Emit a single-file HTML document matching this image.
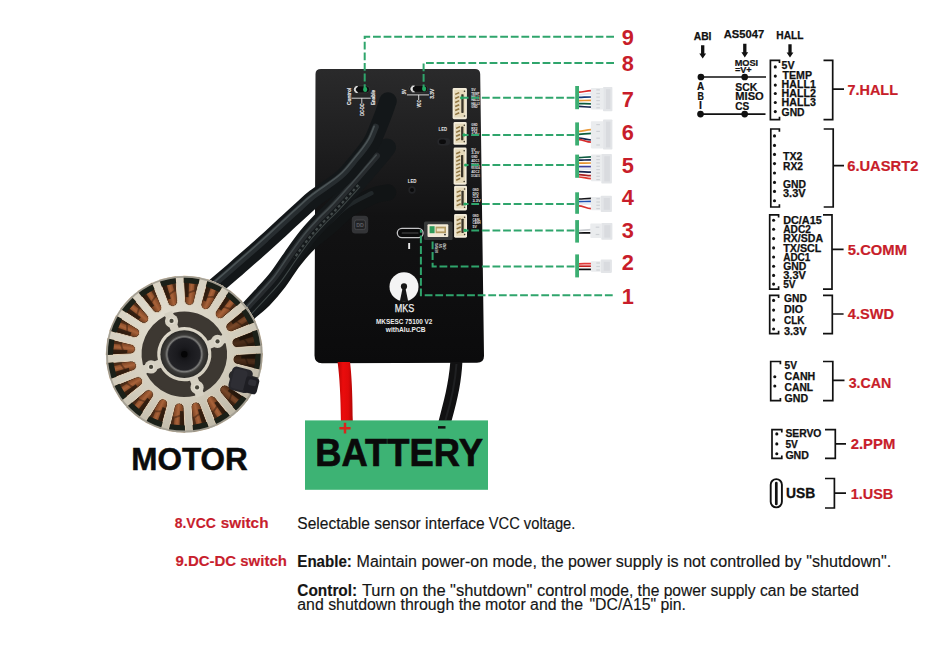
<!DOCTYPE html><html><head><meta charset="utf-8"><style>html,body{margin:0;padding:0;background:#fff}svg{display:block}text{font-family:"Liberation Sans",sans-serif}</style></head><body>
<svg width="936" height="646" viewBox="0 0 936 646">
<rect width="936" height="646" fill="#fff"/>
<!--BOARD--><defs><linearGradient id="bd" x1="0" y1="0" x2="0" y2="1"><stop offset="0" stop-color="#2a2a2b"/><stop offset="0.22" stop-color="#202021"/><stop offset="0.5" stop-color="#121213"/><stop offset="1" stop-color="#0b0b0c"/></linearGradient></defs><path d="M321,69 L475,69 Q480,69 480.2,74 L484,356 Q484,362.8 477,362.8 L322,363.3 Q314.5,363.3 314.5,355.5 L315.5,74 Q315.5,69 321,69 Z" fill="url(#bd)"/>
<!--BDET--><rect x="352.4" y="85.9" width="17.3" height="7" rx="3.5" fill="#0c0c0d" stroke="#3c3c3c" stroke-width="0.8"/><path d="M357.6,86.6 A3,3 0 0 0 357.6,92.4 L356,92.4 A3.2,3.2 0 0 1 356,86.6 Z" fill="#e4e4e4" stroke="#e4e4e4" stroke-width="0.9"/><path d="M351.5,98.2 H370.8 M361.8,98.2 V103.6" stroke="#e8e8e8" stroke-width="0.9" fill="none"/><g font-size="4.9" font-weight="bold" fill="#e8e8e8" stroke="#e8e8e8" stroke-width="0.15"><text transform="translate(350.9,104.9) rotate(-90)" textLength="17.2" lengthAdjust="spacingAndGlyphs">Control</text><text transform="translate(375.2,104.9) rotate(-90)" textLength="14.8" lengthAdjust="spacingAndGlyphs">Enable</text><text transform="translate(363.7,115.8) rotate(-90)" textLength="12.2" lengthAdjust="spacingAndGlyphs">DC-DC</text><text transform="translate(406.2,94.2) rotate(-90)" textLength="4.8" lengthAdjust="spacingAndGlyphs">5V</text><text transform="translate(434.2,98.8) rotate(-90)" textLength="10" lengthAdjust="spacingAndGlyphs">3.3V</text><text transform="translate(420.7,107.6) rotate(-90)" textLength="7.6" lengthAdjust="spacingAndGlyphs">VCC</text></g><rect x="408.8" y="85.3" width="19" height="7" rx="3.5" fill="#0c0c0d" stroke="#3c3c3c" stroke-width="0.8"/><path d="M414.4,86 A3,3 0 0 0 414.4,91.8 L412.6,91.8 A3.2,3.2 0 0 1 412.6,86 Z" fill="#e4e4e4" stroke="#e4e4e4" stroke-width="0.9"/><path d="M406.9,94.9 H429 M418.7,94.9 V100" stroke="#e8e8e8" stroke-width="0.9" fill="none"/><text x="438.6" y="131.1" font-size="4.6" font-weight="bold" fill="#e8e8e8" textLength="8.4" lengthAdjust="spacingAndGlyphs">LED</text><rect x="437.3" y="138" width="13" height="7.6" rx="3.8" fill="#26272a"/><rect x="439" y="139.4" width="7" height="4.6" rx="2.3" fill="#0b0b0c"/><text x="407.7" y="182.5" font-size="4.6" font-weight="bold" fill="#e8e8e8" textLength="8.8" lengthAdjust="spacingAndGlyphs">LED</text><circle cx="412" cy="190" r="3.7" fill="#222326"/><circle cx="412" cy="190" r="2" fill="#0a0a0b"/><rect x="351.8" y="215.8" width="16.4" height="17.8" rx="3.5" fill="#333437"/><rect x="354.6" y="220" width="10.8" height="9.6" rx="2" fill="#222326" stroke="#505155" stroke-width="0.7"/><text x="356.2" y="227.3" font-size="5.4" font-weight="bold" fill="#5c5d62" textLength="7.6" lengthAdjust="spacingAndGlyphs">DD</text><rect x="452.6" y="88" width="14.3" height="31.2" rx="1.4" fill="#f3ecda"/><rect x="454.20000000000005" y="89.8" width="11.100000000000001" height="27.599999999999998" rx="0.8" fill="#e6dabb"/><path d="M455.2,94.42 L459.2,92.62" stroke="#8f7440" stroke-width="1.5"/><path d="M455.2,98.45 L459.2,96.65" stroke="#8f7440" stroke-width="1.5"/><path d="M455.2,102.48 L459.2,100.68" stroke="#8f7440" stroke-width="1.5"/><path d="M455.2,106.52 L459.2,104.72" stroke="#8f7440" stroke-width="1.5"/><path d="M455.2,110.55 L459.2,108.75" stroke="#8f7440" stroke-width="1.5"/><path d="M455.2,114.58 L459.2,112.78" stroke="#8f7440" stroke-width="1.5"/><rect x="461.3" y="94.24" width="2.3" height="18.72" rx="0.6" fill="#3a3428"/><circle cx="464.5" cy="91.2" r="0.8" fill="#3a3428"/><circle cx="464.5" cy="116.0" r="0.8" fill="#3a3428"/><rect x="453.5" y="122" width="13.2" height="22.8" rx="1.4" fill="#f3ecda"/><rect x="455.1" y="123.8" width="10.0" height="19.2" rx="0.8" fill="#e6dabb"/><path d="M456.1,128.38 L460.1,126.57" stroke="#8f7440" stroke-width="1.5"/><path d="M456.1,132.33 L460.1,130.53" stroke="#8f7440" stroke-width="1.5"/><path d="M456.1,136.28 L460.1,134.47" stroke="#8f7440" stroke-width="1.5"/><path d="M456.1,140.22 L460.1,138.42" stroke="#8f7440" stroke-width="1.5"/><rect x="461.1" y="126.56" width="2.3" height="13.68" rx="0.6" fill="#3a3428"/><circle cx="464.3" cy="125.2" r="0.8" fill="#3a3428"/><circle cx="464.3" cy="141.6" r="0.8" fill="#3a3428"/><rect x="453.6" y="147.5" width="13" height="37.2" rx="1.4" fill="#f3ecda"/><rect x="455.20000000000005" y="149.3" width="9.8" height="33.6" rx="0.8" fill="#e6dabb"/><path d="M456.2,153.79 L460.2,151.99" stroke="#8f7440" stroke-width="1.5"/><path d="M456.2,157.56 L460.2,155.76" stroke="#8f7440" stroke-width="1.5"/><path d="M456.2,161.34 L460.2,159.54" stroke="#8f7440" stroke-width="1.5"/><path d="M456.2,165.11 L460.2,163.31" stroke="#8f7440" stroke-width="1.5"/><path d="M456.2,168.89 L460.2,167.09" stroke="#8f7440" stroke-width="1.5"/><path d="M456.2,172.66 L460.2,170.86" stroke="#8f7440" stroke-width="1.5"/><path d="M456.2,176.44 L460.2,174.64" stroke="#8f7440" stroke-width="1.5"/><path d="M456.2,180.21 L460.2,178.41" stroke="#8f7440" stroke-width="1.5"/><rect x="461.0" y="154.94" width="2.3" height="22.32" rx="0.6" fill="#3a3428"/><circle cx="464.2" cy="150.7" r="0.8" fill="#3a3428"/><circle cx="464.2" cy="181.5" r="0.8" fill="#3a3428"/><rect x="454.1" y="185.8" width="12.9" height="24.6" rx="1.4" fill="#f3ecda"/><rect x="455.70000000000005" y="187.60000000000002" width="9.7" height="21.0" rx="0.8" fill="#e6dabb"/><path d="M456.7,192.40 L460.7,190.60" stroke="#8f7440" stroke-width="1.5"/><path d="M456.7,196.80 L460.7,195.00" stroke="#8f7440" stroke-width="1.5"/><path d="M456.7,201.20 L460.7,199.40" stroke="#8f7440" stroke-width="1.5"/><path d="M456.7,205.60 L460.7,203.80" stroke="#8f7440" stroke-width="1.5"/><rect x="461.4" y="190.72" width="2.3" height="14.76" rx="0.6" fill="#3a3428"/><circle cx="464.6" cy="189.0" r="0.8" fill="#3a3428"/><circle cx="464.6" cy="207.2" r="0.8" fill="#3a3428"/><rect x="454.1" y="214" width="12.9" height="23.7" rx="1.4" fill="#f3ecda"/><rect x="455.70000000000005" y="215.8" width="9.7" height="20.099999999999998" rx="0.8" fill="#e6dabb"/><path d="M456.7,220.49 L460.7,218.69" stroke="#8f7440" stroke-width="1.5"/><path d="M456.7,224.66 L460.7,222.86" stroke="#8f7440" stroke-width="1.5"/><path d="M456.7,228.84 L460.7,227.04" stroke="#8f7440" stroke-width="1.5"/><path d="M456.7,233.01 L460.7,231.21" stroke="#8f7440" stroke-width="1.5"/><rect x="461.4" y="218.74" width="2.3" height="14.22" rx="0.6" fill="#3a3428"/><circle cx="464.6" cy="217.2" r="0.8" fill="#3a3428"/><circle cx="464.6" cy="234.5" r="0.8" fill="#3a3428"/><g font-size="3.5" font-weight="bold" fill="#e8e8e8"><text x="471.2" y="91.1" textLength="4.4" lengthAdjust="spacingAndGlyphs">5V</text><text x="471.2" y="94.5" textLength="8.2" lengthAdjust="spacingAndGlyphs">TEMP</text><text x="471.2" y="97.9" textLength="8.6" lengthAdjust="spacingAndGlyphs">HALL1</text><text x="471.2" y="101.3" textLength="8.6" lengthAdjust="spacingAndGlyphs">HALL2</text><text x="471.2" y="104.7" textLength="8.6" lengthAdjust="spacingAndGlyphs">HALL3</text><text x="471.2" y="108.1" textLength="6.3" lengthAdjust="spacingAndGlyphs">GND</text><text x="471.2" y="126.1" textLength="6.3" lengthAdjust="spacingAndGlyphs">GND</text><text x="471.2" y="129.5" textLength="6.3" lengthAdjust="spacingAndGlyphs">RX2</text><text x="471.2" y="132.9" textLength="6.3" lengthAdjust="spacingAndGlyphs">TX2</text><text x="471.2" y="136.3" textLength="8.2" lengthAdjust="spacingAndGlyphs">3.3V</text><text x="471.2" y="150.7" textLength="4.4" lengthAdjust="spacingAndGlyphs">5V</text><text x="471.2" y="154.4" textLength="8.2" lengthAdjust="spacingAndGlyphs">3.3V</text><text x="471.2" y="158.1" textLength="6.3" lengthAdjust="spacingAndGlyphs">GND</text><text x="471.2" y="161.8" textLength="8.2" lengthAdjust="spacingAndGlyphs">ADC1</text><text x="471.2" y="165.5" textLength="8.6" lengthAdjust="spacingAndGlyphs">TX/SCL</text><text x="471.2" y="169.2" textLength="8.6" lengthAdjust="spacingAndGlyphs">RX/SDA</text><text x="471.2" y="172.9" textLength="8.2" lengthAdjust="spacingAndGlyphs">ADC2</text><text x="471.2" y="176.6" textLength="8.6" lengthAdjust="spacingAndGlyphs">DC/A15</text><text x="472.4" y="190.9" textLength="6.3" lengthAdjust="spacingAndGlyphs">GND</text><text x="472.4" y="194.6" textLength="6.3" lengthAdjust="spacingAndGlyphs">DIO</text><text x="472.4" y="198.3" textLength="6.3" lengthAdjust="spacingAndGlyphs">CLK</text><text x="472.4" y="202.0" textLength="8.2" lengthAdjust="spacingAndGlyphs">3.3V</text><text x="472.4" y="217.0" textLength="6.3" lengthAdjust="spacingAndGlyphs">GND</text><text x="472.4" y="220.7" textLength="8.2" lengthAdjust="spacingAndGlyphs">CANL</text><text x="472.4" y="224.4" textLength="8.2" lengthAdjust="spacingAndGlyphs">CANH</text><text x="472.4" y="228.1" textLength="4.4" lengthAdjust="spacingAndGlyphs">5V</text></g><rect x="397.3" y="228.4" width="25.8" height="9.3" rx="4.65" fill="#0a0a0b" stroke="#c4c4c6" stroke-width="1.3"/><rect x="401.6" y="232.4" width="17" height="1.2" rx="0.6" fill="#4a4a4c"/><rect x="408.2" y="243" width="1.9" height="6" fill="#e8e8e8"/><rect x="424" y="221.6" width="28.6" height="18.4" rx="1.5" fill="#8a9090" opacity="0.32"/><rect x="427.5" y="224.3" width="20.8" height="12.6" rx="1" fill="#f1ead8"/><rect x="429.6" y="226.2" width="5" height="7" fill="#2f9c5c"/><rect x="435.6" y="226.6" width="10.4" height="6.6" fill="#b39b63"/><circle cx="445" cy="234.6" r="0.9" fill="#222"/><rect x="436.8" y="228.4" width="7.6" height="3" fill="#efe4c8"/><g font-size="3.3" font-weight="bold" fill="#e8e8e8"><text transform="translate(438.4,253) rotate(-90)" textLength="10" lengthAdjust="spacingAndGlyphs">SERVO</text><text transform="translate(442,248) rotate(-90)" textLength="4.4" lengthAdjust="spacingAndGlyphs">5V</text><text transform="translate(445.6,249.6) rotate(-90)" textLength="6.4" lengthAdjust="spacingAndGlyphs">GND</text></g><circle cx="404" cy="286.8" r="14.5" fill="#f4f4f4"/><circle cx="404" cy="286.4" r="3.1" fill="#161617"/><path d="M402.6,288 L405.4,288 L408.2,301.6 L399.8,301.6 Z" fill="#161617"/><text x="394.8" y="311.9" font-size="10" fill="#f0f0f0" textLength="19.5" lengthAdjust="spacingAndGlyphs" stroke="#f0f0f0" stroke-width="0.25">MKS</text><text x="376" y="323.5" font-size="7.6" font-weight="bold" fill="#ececec" textLength="56.4" lengthAdjust="spacingAndGlyphs">MKSESC 75100 V2</text><text x="385.8" y="331.8" font-size="7" font-weight="bold" fill="#ececec" textLength="39.7" lengthAdjust="spacingAndGlyphs">withAlu.PCB</text>
<!--CABLES--><path d="M388.0,192.5 C385.5,193.1 379.4,193.3 373.0,196.0 C366.6,198.7 356.4,203.9 349.8,208.4 C343.2,212.9 337.9,219.1 333.3,223.1 C328.7,227.1 326.2,229.3 322.1,232.6 C318.1,235.9 313.8,238.3 309.0,243.0 C304.2,247.7 298.7,254.1 293.6,260.6 C288.5,267.1 283.6,275.7 278.6,282.2 C273.6,288.7 268.4,294.8 263.6,299.8 C258.8,304.8 253.0,308.8 249.6,312.0 C246.2,315.2 244.1,317.8 243.0,319.0" fill="none" stroke="#111415" stroke-width="16.5" stroke-linecap="round"/><path d="M371.5,193.2 C367.6,195.3 354.7,201.2 348.0,205.8 C341.3,210.3 335.8,216.6 331.2,220.7 C326.5,224.8 324.1,226.8 320.1,230.1 C316.0,233.5 311.6,236.0 306.8,240.7 C301.9,245.5 296.2,252.0 291.1,258.6 C286.0,265.2 281.0,273.8 276.1,280.3 C271.1,286.7 266.1,292.7 261.3,297.6 C256.5,302.5 250.9,306.5 247.4,309.7 C244.0,312.9 241.8,315.6 240.7,316.8" fill="none" stroke="#30373a" stroke-width="4.2" stroke-linecap="round" opacity="0.55"/><path d="M387.0,147.5 C385.7,149.2 384.1,151.5 379.0,157.5 C373.9,163.5 364.0,175.0 356.5,183.4 C349.0,191.8 339.9,201.9 334.1,208.1 C328.3,214.3 326.2,215.7 321.7,220.4 C317.2,225.1 312.1,230.4 307.2,236.5 C302.3,242.6 297.2,249.9 292.2,256.9 C287.2,263.9 282.1,272.1 277.2,278.4 C272.3,284.7 267.4,289.7 263.0,294.5 C258.6,299.3 254.2,304.0 251.0,307.4 C247.8,310.8 245.2,313.7 244.0,315.0" fill="none" stroke="#14181a" stroke-width="18" stroke-linecap="round"/><path d="M377.0,155.8 C373.3,160.1 362.0,173.3 354.6,181.7 C347.1,190.1 338.0,200.2 332.2,206.3 C326.4,212.5 324.3,213.9 319.8,218.6 C315.3,223.4 310.1,228.7 305.2,234.9 C300.2,241.0 295.1,248.4 290.1,255.4 C285.1,262.4 280.0,270.6 275.1,276.8 C270.3,283.0 265.4,288.0 261.1,292.8 C256.7,297.6 252.3,302.2 249.1,305.6 C245.9,309.0 243.3,312.0 242.1,313.2" fill="none" stroke="#363d40" stroke-width="6" stroke-linecap="round" opacity="0.55"/><path d="M376.3,155.1 C372.5,159.5 361.3,172.6 353.8,181.0 C346.3,189.4 337.3,199.5 331.5,205.6 C325.7,211.8 323.6,213.2 319.1,217.9 C314.6,222.7 309.4,228.1 304.4,234.2 C299.4,240.4 294.3,247.8 289.3,254.8 C284.3,261.8 279.2,270.0 274.4,276.2 C269.5,282.4 264.7,287.3 260.3,292.1 C256.0,296.9 251.5,301.5 248.4,305.0 C245.2,308.4 242.5,311.3 241.4,312.6" fill="none" stroke="#5a6466" stroke-width="1.6" stroke-linecap="round" opacity="0.55"/><path d="M360.1,186.6 C356.3,190.8 343.4,205.2 337.6,211.4 C331.8,217.6 329.6,219.0 325.2,223.7 C320.7,228.4 315.8,233.5 310.9,239.5 C306.1,245.5 301.1,252.7 296.1,259.7 C291.1,266.7 285.9,275.0 281.0,281.3 C276.1,287.7 271.0,292.8 266.6,297.7 C262.1,302.6 257.7,307.2 254.5,310.7 C251.3,314.1 248.7,317.0 247.5,318.3" fill="none" stroke="#66716f" stroke-width="1.1" opacity="0.5"/><path d="M358.3,185.0 C354.5,189.1 341.7,203.6 335.8,209.7 C330.0,215.9 327.9,217.3 323.4,222.1 C319.0,226.8 314.0,232.0 309.1,238.0 C304.2,244.1 296.6,254.9 294.1,258.3" fill="none" stroke="#8a9593" stroke-width="2.2" stroke-dasharray="2.8 2.6" opacity="0.4"/><path d="M388.0,101.0 C387.2,103.2 385.2,109.5 383.5,114.0 C381.8,118.5 379.8,123.6 378.0,128.0 C376.2,132.4 374.7,136.6 372.7,140.3 C370.7,144.1 368.4,147.2 366.0,150.5 C363.6,153.8 362.0,155.8 358.0,160.4 C354.0,165.1 349.2,172.2 342.0,178.4 C334.8,184.6 322.0,192.4 315.0,197.8 C308.0,203.2 305.0,206.5 300.0,211.0 C295.0,215.5 290.0,220.2 285.0,224.8 C280.0,229.4 274.7,234.3 270.0,238.6 C265.3,242.8 262.5,245.4 257.0,250.3 C251.5,255.2 243.4,262.2 237.0,267.8 C230.6,273.4 223.1,279.8 218.6,283.7 C214.1,287.6 211.4,289.8 210.0,291.0" fill="none" stroke="#131719" stroke-width="17.5" stroke-linecap="round"/><path d="M375.6,127.0 C374.7,129.0 372.4,135.4 370.4,139.1 C368.5,142.7 366.3,145.7 363.9,149.0 C361.5,152.2 360.0,154.1 356.0,158.7 C352.1,163.3 347.4,170.3 340.3,176.4 C333.2,182.6 320.4,190.3 313.4,195.7 C306.4,201.2 303.3,204.5 298.3,209.1 C293.2,213.6 288.2,218.3 283.2,222.9 C278.2,227.5 272.9,232.4 268.2,236.7 C263.6,240.9 260.8,243.5 255.3,248.4 C249.8,253.2 241.7,260.3 235.3,265.8 C228.9,271.4 221.4,277.9 216.9,281.7 C212.4,285.6 209.7,287.8 208.3,289.0" fill="none" stroke="#353c3f" stroke-width="6.5" stroke-linecap="round" opacity="0.6"/><path d="M374.1,126.3 C373.3,128.3 370.9,134.7 369.0,138.3 C367.1,141.9 365.0,144.8 362.6,148.0 C360.2,151.2 358.7,153.1 354.8,157.7 C350.9,162.2 346.3,169.1 339.2,175.2 C332.2,181.4 319.4,189.0 312.4,194.5 C305.4,199.9 302.2,203.3 297.2,207.9 C292.1,212.4 287.2,217.1 282.2,221.7 C277.2,226.3 271.8,231.3 267.2,235.5 C262.5,239.7 259.7,242.3 254.2,247.2 C248.7,252.0 240.6,259.1 234.2,264.6 C227.9,270.2 220.4,276.7 215.9,280.5 C211.4,284.4 208.7,286.6 207.3,287.8" fill="none" stroke="#626c6e" stroke-width="1.7" stroke-linecap="round" opacity="0.6"/>
<!--MOTOR--><defs><radialGradient id="mbase" cx="0.38" cy="0.3" r="0.8"><stop offset="0" stop-color="#e2ddd0"/><stop offset="0.6" stop-color="#d2ccbc"/><stop offset="1" stop-color="#b9b3a2"/></radialGradient><linearGradient id="slotg" x1="0" y1="0" x2="0" y2="1"><stop offset="0" stop-color="#4a4a42"/><stop offset="0.12" stop-color="#24211a"/><stop offset="0.4" stop-color="#3a2415"/><stop offset="0.7" stop-color="#7d4222"/><stop offset="1" stop-color="#b06a3e"/></linearGradient><linearGradient id="cop" x1="0" y1="0" x2="1" y2="0"><stop offset="0" stop-color="#54290f"/><stop offset="0.55" stop-color="#a9633a"/><stop offset="1" stop-color="#6b371a"/></linearGradient><radialGradient id="hub" cx="0.5" cy="0.5" r="0.5"><stop offset="0" stop-color="#0c0c0e"/><stop offset="0.3" stop-color="#1a1a1e"/><stop offset="0.66" stop-color="#222226"/><stop offset="0.73" stop-color="#7e7e7c"/><stop offset="0.81" stop-color="#3c3b39"/><stop offset="1" stop-color="#2a2926"/></radialGradient></defs><g transform="translate(184.3,354.2)"><circle r="78.4" fill="url(#mbase)"/><g transform="rotate(5.5)"><path d="M-8.4,-77.8 L8.4,-77.8 L4.9,-54 A4.9,4.9 0 0 1 -4.9,-54 Z" fill="#1d1a13" stroke="#ecd6bc" stroke-width="0.9"/><path d="M-6.6,-71.5 L6.6,-71.5 L4.2,-54 A4.2,4.2 0 0 1 -4.2,-54 Z" fill="url(#cop)"/><path d="M-6.6,-71.5 L-2.2,-71.5 L-1.2,-57 L-4.3,-57 Z" fill="#17110a" opacity="0.72"/><path d="M3.4,-71.5 L6.6,-71.5 L5.4,-63 L3.8,-63 Z" fill="#20150c" opacity="0.5"/><path d="M-3,-62 L3.8,-65 L3.6,-63 L-3,-60 Z" fill="#3a1e0e" opacity="0.5"/><path d="M-8.2,-77.6 L8.2,-77.6 L7.4,-71 L-7.4,-71 Z" fill="#1b2018"/></g><g transform="rotate(23.5)"><path d="M-8.4,-77.8 L8.4,-77.8 L4.9,-54 A4.9,4.9 0 0 1 -4.9,-54 Z" fill="#1d1a13" stroke="#ecd6bc" stroke-width="0.9"/><path d="M-6.6,-71.5 L6.6,-71.5 L4.2,-54 A4.2,4.2 0 0 1 -4.2,-54 Z" fill="url(#cop)"/><path d="M-6.6,-71.5 L-2.2,-71.5 L-1.2,-57 L-4.3,-57 Z" fill="#17110a" opacity="0.72"/><path d="M3.4,-71.5 L6.6,-71.5 L5.4,-63 L3.8,-63 Z" fill="#20150c" opacity="0.5"/><path d="M-3,-62 L3.8,-65 L3.6,-63 L-3,-60 Z" fill="#3a1e0e" opacity="0.5"/><path d="M-8.2,-77.6 L8.2,-77.6 L7.4,-71 L-7.4,-71 Z" fill="#1b2018"/></g><g transform="rotate(41.5)"><path d="M-8.4,-77.8 L8.4,-77.8 L4.9,-54 A4.9,4.9 0 0 1 -4.9,-54 Z" fill="#1d1a13" stroke="#ecd6bc" stroke-width="0.9"/><path d="M-6.6,-71.5 L6.6,-71.5 L4.2,-54 A4.2,4.2 0 0 1 -4.2,-54 Z" fill="url(#cop)"/><path d="M-6.6,-71.5 L-2.2,-71.5 L-1.2,-57 L-4.3,-57 Z" fill="#17110a" opacity="0.72"/><path d="M3.4,-71.5 L6.6,-71.5 L5.4,-63 L3.8,-63 Z" fill="#20150c" opacity="0.5"/><path d="M-3,-62 L3.8,-65 L3.6,-63 L-3,-60 Z" fill="#3a1e0e" opacity="0.5"/><path d="M-8.2,-77.6 L8.2,-77.6 L7.4,-71 L-7.4,-71 Z" fill="#1b2018"/></g><g transform="rotate(59.5)"><path d="M-8.4,-77.8 L8.4,-77.8 L4.9,-54 A4.9,4.9 0 0 1 -4.9,-54 Z" fill="#1d1a13" stroke="#ecd6bc" stroke-width="0.9"/><path d="M-6.6,-71.5 L6.6,-71.5 L4.2,-54 A4.2,4.2 0 0 1 -4.2,-54 Z" fill="url(#cop)"/><path d="M-6.6,-71.5 L-2.2,-71.5 L-1.2,-57 L-4.3,-57 Z" fill="#17110a" opacity="0.72"/><path d="M3.4,-71.5 L6.6,-71.5 L5.4,-63 L3.8,-63 Z" fill="#20150c" opacity="0.5"/><path d="M-3,-62 L3.8,-65 L3.6,-63 L-3,-60 Z" fill="#3a1e0e" opacity="0.5"/><path d="M-7.4,-72 L7.4,-72 L4.4,-54 A4.4,4.4 0 0 1 -4.4,-54 Z" fill="#120d08" opacity="0.3"/><path d="M-8.2,-77.6 L8.2,-77.6 L7.4,-71 L-7.4,-71 Z" fill="#1b2018"/></g><g transform="rotate(77.5)"><path d="M-8.4,-77.8 L8.4,-77.8 L4.9,-54 A4.9,4.9 0 0 1 -4.9,-54 Z" fill="#1d1a13" stroke="#ecd6bc" stroke-width="0.9"/><path d="M-6.6,-71.5 L6.6,-71.5 L4.2,-54 A4.2,4.2 0 0 1 -4.2,-54 Z" fill="url(#cop)"/><path d="M-6.6,-71.5 L-2.2,-71.5 L-1.2,-57 L-4.3,-57 Z" fill="#17110a" opacity="0.72"/><path d="M3.4,-71.5 L6.6,-71.5 L5.4,-63 L3.8,-63 Z" fill="#20150c" opacity="0.5"/><path d="M-3,-62 L3.8,-65 L3.6,-63 L-3,-60 Z" fill="#3a1e0e" opacity="0.5"/><path d="M-7.4,-72 L7.4,-72 L4.4,-54 A4.4,4.4 0 0 1 -4.4,-54 Z" fill="#120d08" opacity="0.62"/><path d="M-8.2,-77.6 L8.2,-77.6 L7.4,-71 L-7.4,-71 Z" fill="#1b2018"/></g><g transform="rotate(95.5)"><path d="M-8.4,-77.8 L8.4,-77.8 L4.9,-54 A4.9,4.9 0 0 1 -4.9,-54 Z" fill="#1d1a13" stroke="#ecd6bc" stroke-width="0.9"/><path d="M-6.6,-71.5 L6.6,-71.5 L4.2,-54 A4.2,4.2 0 0 1 -4.2,-54 Z" fill="url(#cop)"/><path d="M-6.6,-71.5 L-2.2,-71.5 L-1.2,-57 L-4.3,-57 Z" fill="#17110a" opacity="0.72"/><path d="M3.4,-71.5 L6.6,-71.5 L5.4,-63 L3.8,-63 Z" fill="#20150c" opacity="0.5"/><path d="M-3,-62 L3.8,-65 L3.6,-63 L-3,-60 Z" fill="#3a1e0e" opacity="0.5"/><path d="M-7.4,-72 L7.4,-72 L4.4,-54 A4.4,4.4 0 0 1 -4.4,-54 Z" fill="#120d08" opacity="0.62"/><path d="M-8.2,-77.6 L8.2,-77.6 L7.4,-71 L-7.4,-71 Z" fill="#1b2018"/></g><g transform="rotate(131.5)"><path d="M-8.4,-77.8 L8.4,-77.8 L4.9,-54 A4.9,4.9 0 0 1 -4.9,-54 Z" fill="#1d1a13" stroke="#ecd6bc" stroke-width="0.9"/><path d="M-6.6,-71.5 L6.6,-71.5 L4.2,-54 A4.2,4.2 0 0 1 -4.2,-54 Z" fill="url(#cop)"/><path d="M-6.6,-71.5 L-2.2,-71.5 L-1.2,-57 L-4.3,-57 Z" fill="#17110a" opacity="0.72"/><path d="M3.4,-71.5 L6.6,-71.5 L5.4,-63 L3.8,-63 Z" fill="#20150c" opacity="0.5"/><path d="M-3,-62 L3.8,-65 L3.6,-63 L-3,-60 Z" fill="#3a1e0e" opacity="0.5"/><path d="M-7.4,-72 L7.4,-72 L4.4,-54 A4.4,4.4 0 0 1 -4.4,-54 Z" fill="#120d08" opacity="0.3"/><path d="M-8.2,-77.6 L8.2,-77.6 L7.4,-71 L-7.4,-71 Z" fill="#1b2018"/></g><g transform="rotate(149.5)"><path d="M-8.4,-77.8 L8.4,-77.8 L4.9,-54 A4.9,4.9 0 0 1 -4.9,-54 Z" fill="#1d1a13" stroke="#ecd6bc" stroke-width="0.9"/><path d="M-6.6,-71.5 L6.6,-71.5 L4.2,-54 A4.2,4.2 0 0 1 -4.2,-54 Z" fill="url(#cop)"/><path d="M-6.6,-71.5 L-2.2,-71.5 L-1.2,-57 L-4.3,-57 Z" fill="#17110a" opacity="0.72"/><path d="M3.4,-71.5 L6.6,-71.5 L5.4,-63 L3.8,-63 Z" fill="#20150c" opacity="0.5"/><path d="M-3,-62 L3.8,-65 L3.6,-63 L-3,-60 Z" fill="#3a1e0e" opacity="0.5"/><path d="M-8.2,-77.6 L8.2,-77.6 L7.4,-71 L-7.4,-71 Z" fill="#1b2018"/></g><g transform="rotate(167.5)"><path d="M-8.4,-77.8 L8.4,-77.8 L4.9,-54 A4.9,4.9 0 0 1 -4.9,-54 Z" fill="#1d1a13" stroke="#ecd6bc" stroke-width="0.9"/><path d="M-6.6,-71.5 L6.6,-71.5 L4.2,-54 A4.2,4.2 0 0 1 -4.2,-54 Z" fill="url(#cop)"/><path d="M-6.6,-71.5 L-2.2,-71.5 L-1.2,-57 L-4.3,-57 Z" fill="#17110a" opacity="0.72"/><path d="M3.4,-71.5 L6.6,-71.5 L5.4,-63 L3.8,-63 Z" fill="#20150c" opacity="0.5"/><path d="M-3,-62 L3.8,-65 L3.6,-63 L-3,-60 Z" fill="#3a1e0e" opacity="0.5"/><path d="M-8.2,-77.6 L8.2,-77.6 L7.4,-71 L-7.4,-71 Z" fill="#1b2018"/></g><g transform="rotate(185.5)"><path d="M-8.4,-77.8 L8.4,-77.8 L4.9,-54 A4.9,4.9 0 0 1 -4.9,-54 Z" fill="#1d1a13" stroke="#ecd6bc" stroke-width="0.9"/><path d="M-6.6,-71.5 L6.6,-71.5 L4.2,-54 A4.2,4.2 0 0 1 -4.2,-54 Z" fill="url(#cop)"/><path d="M-6.6,-71.5 L-2.2,-71.5 L-1.2,-57 L-4.3,-57 Z" fill="#17110a" opacity="0.72"/><path d="M3.4,-71.5 L6.6,-71.5 L5.4,-63 L3.8,-63 Z" fill="#20150c" opacity="0.5"/><path d="M-3,-62 L3.8,-65 L3.6,-63 L-3,-60 Z" fill="#3a1e0e" opacity="0.5"/><path d="M-8.2,-77.6 L8.2,-77.6 L7.4,-71 L-7.4,-71 Z" fill="#1b2018"/></g><g transform="rotate(203.5)"><path d="M-8.4,-77.8 L8.4,-77.8 L4.9,-54 A4.9,4.9 0 0 1 -4.9,-54 Z" fill="#1d1a13" stroke="#ecd6bc" stroke-width="0.9"/><path d="M-6.6,-71.5 L6.6,-71.5 L4.2,-54 A4.2,4.2 0 0 1 -4.2,-54 Z" fill="url(#cop)"/><path d="M-6.6,-71.5 L-2.2,-71.5 L-1.2,-57 L-4.3,-57 Z" fill="#17110a" opacity="0.72"/><path d="M3.4,-71.5 L6.6,-71.5 L5.4,-63 L3.8,-63 Z" fill="#20150c" opacity="0.5"/><path d="M-3,-62 L3.8,-65 L3.6,-63 L-3,-60 Z" fill="#3a1e0e" opacity="0.5"/><path d="M-8.2,-77.6 L8.2,-77.6 L7.4,-71 L-7.4,-71 Z" fill="#1b2018"/></g><g transform="rotate(221.5)"><path d="M-8.4,-77.8 L8.4,-77.8 L4.9,-54 A4.9,4.9 0 0 1 -4.9,-54 Z" fill="#1d1a13" stroke="#ecd6bc" stroke-width="0.9"/><path d="M-6.6,-71.5 L6.6,-71.5 L4.2,-54 A4.2,4.2 0 0 1 -4.2,-54 Z" fill="url(#cop)"/><path d="M-6.6,-71.5 L-2.2,-71.5 L-1.2,-57 L-4.3,-57 Z" fill="#17110a" opacity="0.72"/><path d="M3.4,-71.5 L6.6,-71.5 L5.4,-63 L3.8,-63 Z" fill="#20150c" opacity="0.5"/><path d="M-3,-62 L3.8,-65 L3.6,-63 L-3,-60 Z" fill="#3a1e0e" opacity="0.5"/><path d="M-8.2,-77.6 L8.2,-77.6 L7.4,-71 L-7.4,-71 Z" fill="#1b2018"/></g><g transform="rotate(239.5)"><path d="M-8.4,-77.8 L8.4,-77.8 L4.9,-54 A4.9,4.9 0 0 1 -4.9,-54 Z" fill="#1d1a13" stroke="#ecd6bc" stroke-width="0.9"/><path d="M-6.6,-71.5 L6.6,-71.5 L4.2,-54 A4.2,4.2 0 0 1 -4.2,-54 Z" fill="url(#cop)"/><path d="M-6.6,-71.5 L-2.2,-71.5 L-1.2,-57 L-4.3,-57 Z" fill="#17110a" opacity="0.72"/><path d="M3.4,-71.5 L6.6,-71.5 L5.4,-63 L3.8,-63 Z" fill="#20150c" opacity="0.5"/><path d="M-3,-62 L3.8,-65 L3.6,-63 L-3,-60 Z" fill="#3a1e0e" opacity="0.5"/><path d="M-8.2,-77.6 L8.2,-77.6 L7.4,-71 L-7.4,-71 Z" fill="#1b2018"/></g><g transform="rotate(257.5)"><path d="M-8.4,-77.8 L8.4,-77.8 L4.9,-54 A4.9,4.9 0 0 1 -4.9,-54 Z" fill="#1d1a13" stroke="#ecd6bc" stroke-width="0.9"/><path d="M-6.6,-71.5 L6.6,-71.5 L4.2,-54 A4.2,4.2 0 0 1 -4.2,-54 Z" fill="url(#cop)"/><path d="M-6.6,-71.5 L-2.2,-71.5 L-1.2,-57 L-4.3,-57 Z" fill="#17110a" opacity="0.72"/><path d="M3.4,-71.5 L6.6,-71.5 L5.4,-63 L3.8,-63 Z" fill="#20150c" opacity="0.5"/><path d="M-3,-62 L3.8,-65 L3.6,-63 L-3,-60 Z" fill="#3a1e0e" opacity="0.5"/><path d="M-8.2,-77.6 L8.2,-77.6 L7.4,-71 L-7.4,-71 Z" fill="#1b2018"/></g><g transform="rotate(275.5)"><path d="M-8.4,-77.8 L8.4,-77.8 L4.9,-54 A4.9,4.9 0 0 1 -4.9,-54 Z" fill="#1d1a13" stroke="#ecd6bc" stroke-width="0.9"/><path d="M-6.6,-71.5 L6.6,-71.5 L4.2,-54 A4.2,4.2 0 0 1 -4.2,-54 Z" fill="url(#cop)"/><path d="M-6.6,-71.5 L-2.2,-71.5 L-1.2,-57 L-4.3,-57 Z" fill="#17110a" opacity="0.72"/><path d="M3.4,-71.5 L6.6,-71.5 L5.4,-63 L3.8,-63 Z" fill="#20150c" opacity="0.5"/><path d="M-3,-62 L3.8,-65 L3.6,-63 L-3,-60 Z" fill="#3a1e0e" opacity="0.5"/><path d="M-8.2,-77.6 L8.2,-77.6 L7.4,-71 L-7.4,-71 Z" fill="#1b2018"/></g><g transform="rotate(293.5)"><path d="M-8.4,-77.8 L8.4,-77.8 L4.9,-54 A4.9,4.9 0 0 1 -4.9,-54 Z" fill="#1d1a13" stroke="#ecd6bc" stroke-width="0.9"/><path d="M-6.6,-71.5 L6.6,-71.5 L4.2,-54 A4.2,4.2 0 0 1 -4.2,-54 Z" fill="url(#cop)"/><path d="M-6.6,-71.5 L-2.2,-71.5 L-1.2,-57 L-4.3,-57 Z" fill="#17110a" opacity="0.72"/><path d="M3.4,-71.5 L6.6,-71.5 L5.4,-63 L3.8,-63 Z" fill="#20150c" opacity="0.5"/><path d="M-3,-62 L3.8,-65 L3.6,-63 L-3,-60 Z" fill="#3a1e0e" opacity="0.5"/><path d="M-8.2,-77.6 L8.2,-77.6 L7.4,-71 L-7.4,-71 Z" fill="#1b2018"/></g><g transform="rotate(311.5)"><path d="M-8.4,-77.8 L8.4,-77.8 L4.9,-54 A4.9,4.9 0 0 1 -4.9,-54 Z" fill="#1d1a13" stroke="#ecd6bc" stroke-width="0.9"/><path d="M-6.6,-71.5 L6.6,-71.5 L4.2,-54 A4.2,4.2 0 0 1 -4.2,-54 Z" fill="url(#cop)"/><path d="M-6.6,-71.5 L-2.2,-71.5 L-1.2,-57 L-4.3,-57 Z" fill="#17110a" opacity="0.72"/><path d="M3.4,-71.5 L6.6,-71.5 L5.4,-63 L3.8,-63 Z" fill="#20150c" opacity="0.5"/><path d="M-3,-62 L3.8,-65 L3.6,-63 L-3,-60 Z" fill="#3a1e0e" opacity="0.5"/><path d="M-8.2,-77.6 L8.2,-77.6 L7.4,-71 L-7.4,-71 Z" fill="#1b2018"/></g><g transform="rotate(329.5)"><path d="M-8.4,-77.8 L8.4,-77.8 L4.9,-54 A4.9,4.9 0 0 1 -4.9,-54 Z" fill="#1d1a13" stroke="#ecd6bc" stroke-width="0.9"/><path d="M-6.6,-71.5 L6.6,-71.5 L4.2,-54 A4.2,4.2 0 0 1 -4.2,-54 Z" fill="url(#cop)"/><path d="M-6.6,-71.5 L-2.2,-71.5 L-1.2,-57 L-4.3,-57 Z" fill="#17110a" opacity="0.72"/><path d="M3.4,-71.5 L6.6,-71.5 L5.4,-63 L3.8,-63 Z" fill="#20150c" opacity="0.5"/><path d="M-3,-62 L3.8,-65 L3.6,-63 L-3,-60 Z" fill="#3a1e0e" opacity="0.5"/><path d="M-8.2,-77.6 L8.2,-77.6 L7.4,-71 L-7.4,-71 Z" fill="#1b2018"/></g><g transform="rotate(347.5)"><path d="M-8.4,-77.8 L8.4,-77.8 L4.9,-54 A4.9,4.9 0 0 1 -4.9,-54 Z" fill="#1d1a13" stroke="#ecd6bc" stroke-width="0.9"/><path d="M-6.6,-71.5 L6.6,-71.5 L4.2,-54 A4.2,4.2 0 0 1 -4.2,-54 Z" fill="url(#cop)"/><path d="M-6.6,-71.5 L-2.2,-71.5 L-1.2,-57 L-4.3,-57 Z" fill="#17110a" opacity="0.72"/><path d="M3.4,-71.5 L6.6,-71.5 L5.4,-63 L3.8,-63 Z" fill="#20150c" opacity="0.5"/><path d="M-3,-62 L3.8,-65 L3.6,-63 L-3,-60 Z" fill="#3a1e0e" opacity="0.5"/><path d="M-8.2,-77.6 L8.2,-77.6 L7.4,-71 L-7.4,-71 Z" fill="#1b2018"/></g><circle r="77.30000000000001" fill="none" stroke="#a39f93" stroke-width="1.8" opacity="0.95"/><g transform="rotate(113.5)"><path d="M-8,-77 L8,-77 L5,-54 A5,5 0 0 1 -5,-54 Z" fill="#2a2a2a"/></g><g transform="translate(56.3,25.6) rotate(14)"><rect x="-10.6" y="-12" width="21.2" height="24" rx="4.5" fill="#27272c"/><rect x="-8.6" y="-10" width="14" height="20" rx="3.5" fill="#2e2e34"/><rect x="5" y="-5.5" width="13.6" height="16.5" rx="3.2" fill="#1e1e23"/><rect x="8" y="-3" width="8" height="6" rx="2" fill="#2f2f36"/></g><path d="M-10.04,-40.27 A41.5,41.5 0 0 1 36.64,-19.48 L24.99,-13.29 A28.3,28.3 0 0 0 -6.85,-27.46 Z" fill="#3d3832" stroke="#3d3832" stroke-width="2.5" stroke-linejoin="round"/><path d="M40.27,-10.04 A41.5,41.5 0 0 1 19.48,36.64 L13.29,24.99 A28.3,28.3 0 0 0 27.46,-6.85 Z" fill="#3d3832" stroke="#3d3832" stroke-width="2.5" stroke-linejoin="round"/><path d="M10.04,40.27 A41.5,41.5 0 0 1 -36.64,19.48 L-24.99,13.29 A28.3,28.3 0 0 0 6.85,27.46 Z" fill="#3d3832" stroke="#3d3832" stroke-width="2.5" stroke-linejoin="round"/><path d="M-40.27,10.04 A41.5,41.5 0 0 1 -19.48,-36.64 L-13.29,-24.99 A28.3,28.3 0 0 0 -27.46,6.85 Z" fill="#3d3832" stroke="#3d3832" stroke-width="2.5" stroke-linejoin="round"/><g transform="rotate(-111)"><rect x="24" y="-4.2" width="21" height="8.4" fill="#d5d0c2"/></g><circle cx="-12.76" cy="-33.24" r="6.6" fill="#d5d0c2"/><circle cx="-12.76" cy="-33.24" r="3.3" fill="#e2ddd1"/><circle cx="-12.76" cy="-33.24" r="2.1" fill="#47453a"/><g transform="rotate(-21)"><rect x="24" y="-4.2" width="21" height="8.4" fill="#d5d0c2"/></g><circle cx="33.24" cy="-12.76" r="6.6" fill="#d5d0c2"/><circle cx="33.24" cy="-12.76" r="3.3" fill="#e2ddd1"/><circle cx="33.24" cy="-12.76" r="2.1" fill="#47453a"/><g transform="rotate(69)"><rect x="24" y="-4.2" width="21" height="8.4" fill="#d5d0c2"/></g><circle cx="12.76" cy="33.24" r="6.6" fill="#d5d0c2"/><circle cx="12.76" cy="33.24" r="3.3" fill="#e2ddd1"/><circle cx="12.76" cy="33.24" r="2.1" fill="#47453a"/><g transform="rotate(159)"><rect x="24" y="-4.2" width="21" height="8.4" fill="#d5d0c2"/></g><circle cx="-33.24" cy="12.76" r="6.6" fill="#d5d0c2"/><circle cx="-33.24" cy="12.76" r="3.3" fill="#e2ddd1"/><circle cx="-33.24" cy="12.76" r="2.1" fill="#47453a"/><circle r="25" fill="#d6d1c4"/><circle r="23.9" fill="url(#hub)"/><circle r="3.2" fill="#050506"/></g>
<!--BATTERY--><defs><linearGradient id="rw" x1="0" y1="0" x2="1" y2="0"><stop offset="0" stop-color="#b80606"/><stop offset="0.35" stop-color="#ea0c0c"/><stop offset="0.7" stop-color="#e00a0a"/><stop offset="1" stop-color="#b00505"/></linearGradient></defs><path d="M337.6,362 L350,362 C351.6,375 352.5,390 352.8,421 L340.9,421 C340.6,395 339.6,378 337.6,362 Z" fill="url(#rw)"/><path d="M450.3,362 L462.4,362 C461.4,380 458.6,396 451.5,421 L438.6,421 C443.6,402 448.6,384 450.3,362 Z" fill="#111112"/><path d="M456.5,364 C455,385 451,402 445.5,420" fill="none" stroke="#2a2c2d" stroke-width="2" opacity="0.6"/><rect x="305" y="420.4" width="183" height="69.4" fill="#3db374"/><text x="315.3" y="466" font-size="39.6" font-weight="bold" textLength="167.6" lengthAdjust="spacingAndGlyphs" fill="#0a0a0a" stroke="#0a0a0a" stroke-width="0.7">BATTERY</text><path d="M339.4,428.2 H350.6 M345,422.8 V433.6" stroke="#d9261c" stroke-width="2.5" fill="none"/><rect x="438" y="426.1" width="7.5" height="2.5" fill="#111"/>
<!--DASH--><g fill="none" stroke="#2fa56c" stroke-width="2" stroke-dasharray="7.8 2.8"><path d="M614,36.7 H364.7 V91"/><path d="M614,63 H423.6 V90"/><path d="M574.5,97.8 H462"/><path d="M574.5,134.9 H464"/><path d="M574.5,165 H466"/><path d="M574.5,204 H465"/><path d="M574.5,230.4 H465"/><path d="M574.5,266.4 H432.6 V239"/><path d="M612.7,295.3 H420.9 V230"/></g>
<!--DOTS--><ellipse cx="365.2" cy="89.4" rx="2" ry="2.6" fill="#22a862"/><ellipse cx="424.2" cy="88.8" rx="2" ry="2.6" fill="#22a862"/><circle cx="461.6" cy="97.8" r="1.6" fill="#22a862"/><circle cx="464" cy="134.9" r="1.6" fill="#22a862"/><circle cx="465.6" cy="165" r="1.6" fill="#22a862"/><circle cx="465" cy="204" r="1.6" fill="#22a862"/><circle cx="465" cy="230.4" r="1.6" fill="#22a862"/>
<!--HARN--><path d="M579,92.2 C583,92.2 586,90.6 591.5,90.6" stroke="#d92a2a" stroke-width="1.7" fill="none"/><path d="M579,94.8 C583,94.8 586,93.6 591.5,93.6" stroke="#dfe6f2" stroke-width="1.7" fill="none"/><path d="M579,97.4 C583,97.4 586,97 591.5,97" stroke="#123a78" stroke-width="1.7" fill="none"/><path d="M579,100.6 C583,100.6 586,100.4 591.5,100.4" stroke="#e8952f" stroke-width="1.7" fill="none"/><path d="M579,103.6 C583,103.6 586,103.8 591.5,103.8" stroke="#0c5a3c" stroke-width="1.7" fill="none"/><path d="M579,106.4 C583,106.4 586,107.2 591.5,107.2" stroke="#17254d" stroke-width="1.7" fill="none"/><rect x="575.2" y="86" width="3.8" height="23.2" fill="#3cae72"/><rect x="603" y="87" width="9.4" height="24.2" rx="0.8" fill="#e3e5e8"/><rect x="606" y="89.2" width="4.4" height="19.8" fill="#d9dbdf"/><rect x="590.9" y="88.1" width="12.7" height="21.5" rx="0.8" fill="#eaecee"/><rect x="596.3" y="89.3" width="3.6" height="1.2" fill="#cfd2d6"/><rect x="596.3" y="92.9" width="3.6" height="1.2" fill="#cfd2d6"/><rect x="596.3" y="96.5" width="3.6" height="1.2" fill="#cfd2d6"/><rect x="596.3" y="100.0" width="3.6" height="1.2" fill="#cfd2d6"/><rect x="596.3" y="103.6" width="3.6" height="1.2" fill="#cfd2d6"/><rect x="596.3" y="107.2" width="3.6" height="1.2" fill="#cfd2d6"/><path d="M579,131.4 C583,131.4 586,129.6 591.5,129.6" stroke="#ea9a3a" stroke-width="1.7" fill="none"/><path d="M579,134.4 C583,134.4 586,133.4 591.5,133.4" stroke="#0d5c3c" stroke-width="1.7" fill="none"/><path d="M579,138 C583,138 586,140 591.5,140" stroke="#18264e" stroke-width="1.7" fill="none"/><path d="M579,139.6 C583,139.6 586,142.2 591.5,142.2" stroke="#d62a2a" stroke-width="1.7" fill="none"/><rect x="575.2" y="122.4" width="3.8" height="23.1" fill="#3cae72"/><rect x="603" y="119.4" width="9.4" height="30.2" rx="0.8" fill="#e3e5e8"/><rect x="606" y="121.60000000000001" width="4.4" height="25.8" fill="#d9dbdf"/><rect x="590.9" y="121.2" width="12.5" height="27.2" rx="0.8" fill="#eaecee"/><rect x="596.3" y="124.0" width="3.6" height="1.2" fill="#cfd2d6"/><rect x="596.3" y="130.8" width="3.6" height="1.2" fill="#cfd2d6"/><rect x="596.3" y="137.6" width="3.6" height="1.2" fill="#cfd2d6"/><rect x="596.3" y="144.4" width="3.6" height="1.2" fill="#cfd2d6"/><path d="M579,157.6 C583,157.6 586,156.8 591.5,156.8" stroke="#0d5a40" stroke-width="1.7" fill="none"/><path d="M579,160.2 C583,160.2 586,159.8 591.5,159.8" stroke="#17254d" stroke-width="1.7" fill="none"/><path d="M579,163.2 C583,163.2 586,163 591.5,163" stroke="#e8952f" stroke-width="1.7" fill="none"/><path d="M579,166.6 C583,166.6 586,166.6 591.5,166.6" stroke="#3c3f9a" stroke-width="1.7" fill="none"/><path d="M579,169 C583,169 586,169.2 591.5,169.2" stroke="#e4e8f0" stroke-width="1.7" fill="none"/><path d="M579,171.6 C583,171.6 586,172.2 591.5,172.2" stroke="#17254d" stroke-width="1.7" fill="none"/><path d="M579,174.6 C583,174.6 586,175.6 591.5,175.6" stroke="#a82222" stroke-width="1.7" fill="none"/><path d="M579,177 C583,177 586,178.6 591.5,178.6" stroke="#e0392f" stroke-width="1.7" fill="none"/><rect x="575.2" y="154.6" width="3.8" height="23.2" fill="#3cae72"/><rect x="601.3" y="154" width="10.6" height="29.6" rx="0.8" fill="#e3e5e8"/><rect x="604.3" y="156.2" width="5.6" height="25.2" fill="#d9dbdf"/><rect x="590.9" y="154.6" width="11.1" height="26.7" rx="0.8" fill="#eaecee"/><rect x="596.3" y="155.7" width="3.6" height="1.2" fill="#cfd2d6"/><rect x="596.3" y="159.0" width="3.6" height="1.2" fill="#cfd2d6"/><rect x="596.3" y="162.3" width="3.6" height="1.2" fill="#cfd2d6"/><rect x="596.3" y="165.7" width="3.6" height="1.2" fill="#cfd2d6"/><rect x="596.3" y="169.0" width="3.6" height="1.2" fill="#cfd2d6"/><rect x="596.3" y="172.4" width="3.6" height="1.2" fill="#cfd2d6"/><rect x="596.3" y="175.7" width="3.6" height="1.2" fill="#cfd2d6"/><rect x="596.3" y="179.0" width="3.6" height="1.2" fill="#cfd2d6"/><path d="M579,199 C583,199 586,198.4 591.5,198.4" stroke="#15151a" stroke-width="1.7" fill="none"/><path d="M579,201.6 C583,201.6 586,201.4 591.5,201.4" stroke="#1f4fb0" stroke-width="1.7" fill="none"/><path d="M579,203.6 C583,203.6 586,204 591.5,204" stroke="#e4e8f0" stroke-width="1.7" fill="none"/><path d="M579,205.8 C583,205.8 586,208.6 591.5,208.6" stroke="#d8302c" stroke-width="1.7" fill="none"/><rect x="575.2" y="192.3" width="3.8" height="21.5" fill="#3cae72"/><rect x="600.7" y="195.8" width="11.2" height="16.2" rx="0.8" fill="#e3e5e8"/><rect x="603.7" y="198.0" width="6.2" height="11.8" fill="#d9dbdf"/><rect x="590.9" y="197" width="10.0" height="13.3" rx="0.8" fill="#eaecee"/><rect x="596.3" y="198.1" width="3.6" height="1.2" fill="#cfd2d6"/><rect x="596.3" y="201.4" width="3.6" height="1.2" fill="#cfd2d6"/><rect x="596.3" y="204.7" width="3.6" height="1.2" fill="#cfd2d6"/><rect x="596.3" y="208.0" width="3.6" height="1.2" fill="#cfd2d6"/><path d="M579,230.6 C583,230.6 586,229.6 591.5,229.6" stroke="#c9ccd0" stroke-width="1.7" fill="none"/><path d="M579,233 C583,233 586,232.8 591.5,232.8" stroke="#0e0e10" stroke-width="1.7" fill="none"/><rect x="575.2" y="220.1" width="3.8" height="22.5" fill="#3cae72"/><rect x="601.3" y="223" width="11.1" height="16.8" rx="0.8" fill="#e3e5e8"/><rect x="604.3" y="225.2" width="6.1" height="12.4" fill="#d9dbdf"/><rect x="590.3" y="223.6" width="11.0" height="14.5" rx="0.8" fill="#eaecee"/><rect x="595.6999999999999" y="226.6" width="3.6" height="1.2" fill="#cfd2d6"/><rect x="595.6999999999999" y="233.9" width="3.6" height="1.2" fill="#cfd2d6"/><path d="M579,263.8 C583,263.8 586,263.6 591.5,263.6" stroke="#e23a3a" stroke-width="1.7" fill="none"/><path d="M579,266.2 C583,266.2 586,266.2 591.5,266.2" stroke="#c41f1f" stroke-width="1.7" fill="none"/><path d="M579,269.4 C583,269.4 586,269.4 591.5,269.4" stroke="#0e0e10" stroke-width="1.7" fill="none"/><rect x="575.2" y="254.4" width="3.8" height="23.0" fill="#3cae72"/><rect x="600.7" y="259.6" width="11.2" height="13.3" rx="0.8" fill="#e3e5e8"/><rect x="603.7" y="261.8" width="6.2" height="8.9" fill="#d9dbdf"/><rect x="590.9" y="261.3" width="10.0" height="10.4" rx="0.8" fill="#eaecee"/><rect x="596.3" y="262.4" width="3.6" height="1.2" fill="#cfd2d6"/><rect x="596.3" y="265.9" width="3.6" height="1.2" fill="#cfd2d6"/><rect x="596.3" y="269.4" width="3.6" height="1.2" fill="#cfd2d6"/>
<!--NUM--><g font-size="21.8" font-weight="bold" fill="#c81d2a" text-anchor="middle"><text x="627.9" y="45.1">9</text><text x="627.9" y="71.4">8</text><text x="627.9" y="106.8">7</text><text x="627.9" y="140">6</text><text x="627.9" y="173">5</text><text x="627.9" y="205.3">4</text><text x="627.9" y="237.8">3</text><text x="627.9" y="270.3">2</text><text x="627.9" y="303.5">1</text></g>
<!--PINS--><g font-weight="bold" fill="#111" stroke="#111" stroke-width="0.25" font-size="10.6"><text x="693.7" y="39.8" textLength="17.8" lengthAdjust="spacingAndGlyphs">ABI</text><text x="723.8" y="38.3" textLength="40.4" lengthAdjust="spacingAndGlyphs" font-size="11.4">AS5047</text><text x="776.3" y="38.7" textLength="27.3" lengthAdjust="spacingAndGlyphs" font-size="11.4">HALL</text></g><path d="M701.0500000000001,45.2 H704.35 V53.4 H706.1 L702.7,58.6 L699.3000000000001,53.4 H701.0500000000001 Z" fill="#111"/><path d="M743.15,43.8 H746.4499999999999 V52.199999999999996 H748.1999999999999 L744.8,57.4 L741.4,52.199999999999996 H743.15 Z" fill="#111"/><path d="M788.35,44.2 H791.65 V52.4 H793.4 L790,57.6 L786.6,52.4 H788.35 Z" fill="#111"/><g font-weight="bold" fill="#111" stroke="#111" stroke-width="0.2"><text x="734.7" y="66.1" font-size="9.4" textLength="23.5" lengthAdjust="spacingAndGlyphs">MOSI</text><text x="734.9" y="72.9" font-size="8.2" textLength="16.8" lengthAdjust="spacingAndGlyphs">=V+</text><text x="735.3" y="90.7" font-size="10.6" textLength="22" lengthAdjust="spacingAndGlyphs">SCK</text><text x="735.3" y="100" font-size="10.6" textLength="28.4" lengthAdjust="spacingAndGlyphs">MISO</text><text x="735.3" y="109.5" font-size="10.6" textLength="14" lengthAdjust="spacingAndGlyphs">CS</text><text x="696.9" y="90.4" font-size="10.6" textLength="7.2" lengthAdjust="spacingAndGlyphs">A</text><text x="697.4" y="99.5" font-size="10.6" textLength="6.4" lengthAdjust="spacingAndGlyphs">B</text><text x="699" y="108.8" font-size="10.6">I</text></g><path d="M700.8,77 H766 M700.5,114.1 H765.5" stroke="#111" stroke-width="1.6" fill="none"/><circle cx="700.9" cy="77" r="3.35" fill="#111"/><circle cx="744.7" cy="77" r="3.35" fill="#111"/><circle cx="700.5" cy="114.1" r="3.35" fill="#111"/><circle cx="744.7" cy="114.1" r="3.35" fill="#111"/><path d="M779.5,63.099999999999994 V60.3 H770.4 V119.6 H779.5 V116.8" stroke="#111" stroke-width="1.7" fill="none"/><path d="M823.5,60.3 H832.7 V119.6 H823.5 M832.7,89.1 H844" stroke="#111" stroke-width="1.7" fill="none"/><circle cx="775.3" cy="66.9" r="1.55" fill="#111"/><circle cx="775.3" cy="76.1" r="1.55" fill="#111"/><circle cx="775.3" cy="85.1" r="1.55" fill="#111"/><circle cx="775.3" cy="93.5" r="1.55" fill="#111"/><circle cx="775.3" cy="102.5" r="1.55" fill="#111"/><circle cx="775.3" cy="111.6" r="1.55" fill="#111"/><text x="781.5" y="69.3" font-size="10.6" font-weight="bold" fill="#111" stroke="#111" stroke-width="0.25" textLength="13" lengthAdjust="spacingAndGlyphs">5V</text><text x="782.6" y="78.7" font-size="10.6" font-weight="bold" fill="#111" stroke="#111" stroke-width="0.25" textLength="29.4" lengthAdjust="spacingAndGlyphs">TEMP</text><text x="781.6" y="88.1" font-size="10.6" font-weight="bold" fill="#111" stroke="#111" stroke-width="0.25" textLength="34.2" lengthAdjust="spacingAndGlyphs">HALL1</text><text x="781.6" y="97.1" font-size="10.6" font-weight="bold" fill="#111" stroke="#111" stroke-width="0.25" textLength="34.4" lengthAdjust="spacingAndGlyphs">HALL2</text><text x="781.6" y="106.3" font-size="10.6" font-weight="bold" fill="#111" stroke="#111" stroke-width="0.25" textLength="34.4" lengthAdjust="spacingAndGlyphs">HALL3</text><text x="781.6" y="115.5" font-size="10.6" font-weight="bold" fill="#111" stroke="#111" stroke-width="0.25" textLength="23" lengthAdjust="spacingAndGlyphs">GND</text><text x="847.4" y="94.65" font-size="15" font-weight="bold" fill="#c81d2a" stroke="#c81d2a" stroke-width="0.2" textLength="50.6" lengthAdjust="spacingAndGlyphs">7.HALL</text><path d="M779.4,131.8 V129 H770.8 V207 H779.4 V204.2" stroke="#111" stroke-width="1.7" fill="none"/><path d="M823.7,129 H833.2 V207 H823.7 M833.2,165.7 H844" stroke="#111" stroke-width="1.7" fill="none"/><circle cx="774.5" cy="135.9" r="1.55" fill="#111"/><circle cx="774.5" cy="145.4" r="1.55" fill="#111"/><circle cx="774.5" cy="154.4" r="1.55" fill="#111"/><circle cx="774.5" cy="163.6" r="1.55" fill="#111"/><circle cx="774.5" cy="173" r="1.55" fill="#111"/><circle cx="774.5" cy="182.4" r="1.55" fill="#111"/><circle cx="774.5" cy="191.4" r="1.55" fill="#111"/><circle cx="774.5" cy="200.8" r="1.55" fill="#111"/><text x="783" y="159.6" font-size="10.6" font-weight="bold" fill="#111" stroke="#111" stroke-width="0.25" textLength="19.4" lengthAdjust="spacingAndGlyphs">TX2</text><text x="783" y="169.5" font-size="10.6" font-weight="bold" fill="#111" stroke="#111" stroke-width="0.25" textLength="20" lengthAdjust="spacingAndGlyphs">RX2</text><text x="783" y="187.6" font-size="10.6" font-weight="bold" fill="#111" stroke="#111" stroke-width="0.25" textLength="23" lengthAdjust="spacingAndGlyphs">GND</text><text x="783" y="197.2" font-size="10.6" font-weight="bold" fill="#111" stroke="#111" stroke-width="0.25" textLength="22.6" lengthAdjust="spacingAndGlyphs">3.3V</text><text x="847.2" y="170.95" font-size="15" font-weight="bold" fill="#c81d2a" stroke="#c81d2a" stroke-width="0.2" textLength="71.2" lengthAdjust="spacingAndGlyphs">6.UASRT2</text><path d="M778.6,217.60000000000002 V214.8 H769.7 V289.1 H778.6 V286.3" stroke="#111" stroke-width="1.7" fill="none"/><path d="M823,214.8 H832 V289.1 H823 M832,249.3 H843.6" stroke="#111" stroke-width="1.7" fill="none"/><circle cx="773.6" cy="220.2" r="1.55" fill="#111"/><circle cx="773.6" cy="229.3" r="1.55" fill="#111"/><circle cx="773.6" cy="238.6" r="1.55" fill="#111"/><circle cx="773.6" cy="247.9" r="1.55" fill="#111"/><circle cx="773.6" cy="257" r="1.55" fill="#111"/><circle cx="773.6" cy="266.3" r="1.55" fill="#111"/><circle cx="773.6" cy="275.4" r="1.55" fill="#111"/><circle cx="773.6" cy="284.1" r="1.55" fill="#111"/><text x="783.2" y="224" font-size="10.6" font-weight="bold" fill="#111" stroke="#111" stroke-width="0.25" textLength="38.6" lengthAdjust="spacingAndGlyphs">DC/A15</text><text x="783.2" y="233" font-size="10.6" font-weight="bold" fill="#111" stroke="#111" stroke-width="0.25" textLength="27.7" lengthAdjust="spacingAndGlyphs">ADC2</text><text x="783.2" y="242.2" font-size="10.6" font-weight="bold" fill="#111" stroke="#111" stroke-width="0.25" textLength="39.8" lengthAdjust="spacingAndGlyphs">RX/SDA</text><text x="783.2" y="251.5" font-size="10.6" font-weight="bold" fill="#111" stroke="#111" stroke-width="0.25" textLength="38.2" lengthAdjust="spacingAndGlyphs">TX/SCL</text><text x="783.2" y="260.6" font-size="10.6" font-weight="bold" fill="#111" stroke="#111" stroke-width="0.25" textLength="27.2" lengthAdjust="spacingAndGlyphs">ADC1</text><text x="783.2" y="269.8" font-size="10.6" font-weight="bold" fill="#111" stroke="#111" stroke-width="0.25" textLength="23.2" lengthAdjust="spacingAndGlyphs">GND</text><text x="783.2" y="279" font-size="10.6" font-weight="bold" fill="#111" stroke="#111" stroke-width="0.25" textLength="22.7" lengthAdjust="spacingAndGlyphs">3.3V</text><text x="783.2" y="288" font-size="10.6" font-weight="bold" fill="#111" stroke="#111" stroke-width="0.25" textLength="12.4" lengthAdjust="spacingAndGlyphs">5V</text><text x="847.8" y="255.05" font-size="15" font-weight="bold" fill="#c81d2a" stroke="#c81d2a" stroke-width="0.2" textLength="59.2" lengthAdjust="spacingAndGlyphs">5.COMM</text><path d="M778.6,298.1 V295.3 H769.7 V333.6 H778.6 V330.8" stroke="#111" stroke-width="1.7" fill="none"/><path d="M823,295.3 H832.3 V333.6 H823 M832.3,314 H843.6" stroke="#111" stroke-width="1.7" fill="none"/><circle cx="773.6" cy="300.4" r="1.55" fill="#111"/><circle cx="773.6" cy="310.1" r="1.55" fill="#111"/><circle cx="773.6" cy="319.9" r="1.55" fill="#111"/><circle cx="773.6" cy="329" r="1.55" fill="#111"/><text x="784" y="302" font-size="10.6" font-weight="bold" fill="#111" stroke="#111" stroke-width="0.25" textLength="22.8" lengthAdjust="spacingAndGlyphs">GND</text><text x="784" y="312.7" font-size="10.6" font-weight="bold" fill="#111" stroke="#111" stroke-width="0.25" textLength="19" lengthAdjust="spacingAndGlyphs">DIO</text><text x="784" y="323.6" font-size="10.6" font-weight="bold" fill="#111" stroke="#111" stroke-width="0.25" textLength="20.5" lengthAdjust="spacingAndGlyphs">CLK</text><text x="784" y="334.6" font-size="10.6" font-weight="bold" fill="#111" stroke="#111" stroke-width="0.25" textLength="22.5" lengthAdjust="spacingAndGlyphs">3.3V</text><text x="847.8" y="319.05" font-size="15" font-weight="bold" fill="#c81d2a" stroke="#c81d2a" stroke-width="0.2" textLength="46.2" lengthAdjust="spacingAndGlyphs">4.SWD</text><path d="M780.4,364.3 V361.5 H770.7 V400.7 H780.4 V397.9" stroke="#111" stroke-width="1.7" fill="none"/><path d="M823,361.5 H832.8 V400.7 H823 M832.8,380.4 H844.5" stroke="#111" stroke-width="1.7" fill="none"/><circle cx="774.8" cy="376.8" r="1.55" fill="#111"/><circle cx="774.8" cy="386" r="1.55" fill="#111"/><text x="784.6" y="368.7" font-size="10.6" font-weight="bold" fill="#111" stroke="#111" stroke-width="0.25" textLength="12.4" lengthAdjust="spacingAndGlyphs">5V</text><text x="784.6" y="379.8" font-size="10.6" font-weight="bold" fill="#111" stroke="#111" stroke-width="0.25" textLength="30.7" lengthAdjust="spacingAndGlyphs">CANH</text><text x="784.6" y="390.7" font-size="10.6" font-weight="bold" fill="#111" stroke="#111" stroke-width="0.25" textLength="28.5" lengthAdjust="spacingAndGlyphs">CANL</text><text x="784.6" y="401.9" font-size="10.6" font-weight="bold" fill="#111" stroke="#111" stroke-width="0.25" textLength="23.5" lengthAdjust="spacingAndGlyphs">GND</text><text x="848.7" y="387.65" font-size="15" font-weight="bold" fill="#c81d2a" stroke="#c81d2a" stroke-width="0.2" textLength="42.7" lengthAdjust="spacingAndGlyphs">3.CAN</text><path d="M781.8,432.5 V429.7 H772 V458.4 H781.8 V455.59999999999997" stroke="#111" stroke-width="1.7" fill="none"/><path d="M825,429.7 H835.3 V458.4 H825 M835.3,443.9 H846" stroke="#111" stroke-width="1.7" fill="none"/><circle cx="776.8" cy="433.9" r="1.55" fill="#111"/><circle cx="776.8" cy="443.9" r="1.55" fill="#111"/><circle cx="776.8" cy="453.7" r="1.55" fill="#111"/><text x="785.4" y="436.7" font-size="10.6" font-weight="bold" fill="#111" stroke="#111" stroke-width="0.25" textLength="36" lengthAdjust="spacingAndGlyphs">SERVO</text><text x="785.4" y="448.1" font-size="10.6" font-weight="bold" fill="#111" stroke="#111" stroke-width="0.25" textLength="12.4" lengthAdjust="spacingAndGlyphs">5V</text><text x="785.4" y="459" font-size="10.6" font-weight="bold" fill="#111" stroke="#111" stroke-width="0.25" textLength="23.5" lengthAdjust="spacingAndGlyphs">GND</text><text x="850.7" y="449.45" font-size="15" font-weight="bold" fill="#c81d2a" stroke="#c81d2a" stroke-width="0.2" textLength="44.6" lengthAdjust="spacingAndGlyphs">2.PPM</text><path d="M825,478.5 H834.4 V508 H825 M834.4,493.2 H846" stroke="#111" stroke-width="1.7" fill="none"/><text x="850.7" y="498.55" font-size="15" font-weight="bold" fill="#c81d2a" stroke="#c81d2a" stroke-width="0.2" textLength="42.6" lengthAdjust="spacingAndGlyphs">1.USB</text><rect x="770.7" y="479.1" width="11.2" height="28.3" rx="5.6" fill="#fff" stroke="#111" stroke-width="1.9"/><path d="M776.3,483 V504" stroke="#111" stroke-width="2.7" stroke-linecap="round"/><text x="786" y="498" font-size="15" font-weight="bold" fill="#111" stroke="#111" stroke-width="0.3" textLength="29.3" lengthAdjust="spacingAndGlyphs">USB</text>
<!--TEXTS--><text x="131.3" y="470.1" font-size="31.6" font-weight="bold" fill="#0b0b0b" stroke="#0b0b0b" stroke-width="0.5" textLength="116.4" lengthAdjust="spacingAndGlyphs">MOTOR</text><text x="174.7" y="527.9" font-size="15.2" font-weight="bold" fill="#c81e2d" stroke="#c81e2d" stroke-width="0.15" textLength="41.2" lengthAdjust="spacingAndGlyphs">8.VCC</text><text x="220.8" y="527.9" font-size="15.2" font-weight="bold" fill="#c81e2d" stroke="#c81e2d" stroke-width="0.15" textLength="47.7" lengthAdjust="spacingAndGlyphs">switch</text><text x="175.4" y="565.5" font-size="15.2" font-weight="bold" fill="#c81e2d" stroke="#c81e2d" stroke-width="0.15" textLength="111.5" lengthAdjust="spacingAndGlyphs">9.DC-DC switch</text><g font-size="15.6" fill="#151515" stroke="#151515" stroke-width="0.15"><text x="297.3" y="528.7" textLength="187.4" lengthAdjust="spacingAndGlyphs">Selectable sensor interface</text><text x="488.7" y="528.7" textLength="86.7" lengthAdjust="spacingAndGlyphs">VCC voltage.</text><text x="297.3" y="566.8" textLength="54.6" lengthAdjust="spacingAndGlyphs" font-weight="bold">Enable:</text><text x="356.6" y="566.8" textLength="254.9" lengthAdjust="spacingAndGlyphs">Maintain power-on mode, the power</text><text x="615.8" y="566.8" textLength="275.5" lengthAdjust="spacingAndGlyphs">supply is not controlled by "shutdown".</text><text x="297.3" y="596" textLength="59.9" lengthAdjust="spacingAndGlyphs" font-weight="bold">Control:</text><text x="361.9" y="596" textLength="224.5" lengthAdjust="spacingAndGlyphs">Turn on the "shutdown" control</text><text x="589.9" y="596" textLength="269.0" lengthAdjust="spacingAndGlyphs">mode, the power supply can be started</text><text x="297.3" y="610.3" textLength="285.7" lengthAdjust="spacingAndGlyphs">and shutdown through the motor and the</text><text x="589.5" y="610.3" textLength="96.5" lengthAdjust="spacingAndGlyphs">"DC/A15" pin.</text></g>
</svg></body></html>
